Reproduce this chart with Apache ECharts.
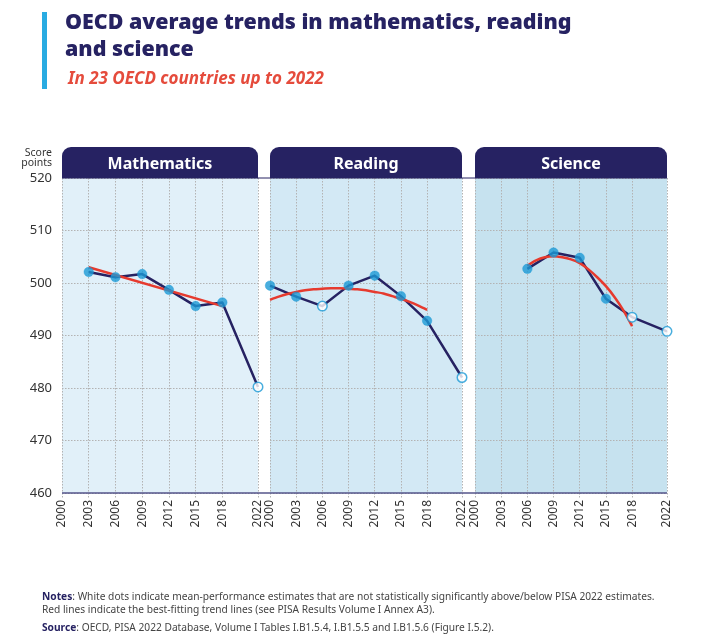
<!DOCTYPE html>
<html><head><meta charset="utf-8">
<script src="https://cdn.jsdelivr.net/npm/echarts@6/dist/echarts.min.js"></script>
<style>html,body{margin:0;padding:0;background:#fff}#c{width:713px;height:643px}</style>
</head><body><div id="c"></div>
<script>
// ---- data ----
const axisYears = ['2000','2001','2002','2003','2004','2005','2006','2007','2008','2009','2010','2011','2012','2013','2014','2015','2016','2017','2018','2019','2020','2021','2022'];
const tickYears = ['2000','2003','2006','2009','2012','2015','2018','2022'];
const panelNames = ['Mathematics','Reading','Science'];

const mathYears = ['2003','2006','2009','2012','2015','2018','2022'];
const mathScores = [502.1, 501.1, 501.7, 498.7, 495.6, 496.3, 480.2];
const mathOpen = [false, false, false, false, false, false, true];
const mathTrendYears = ['2003','2018'];
const mathTrend = [503.0, 495.6];

const readingYears = ['2000','2003','2006','2009','2012','2015','2018','2022'];
const readingScores = [499.5, 497.4, 495.6, 499.5, 501.4, 497.5, 492.8, 482.0];
const readingOpen = [false, false, true, false, false, false, false, true];
const readingTrendYears = ['2000','2001','2002','2003','2004','2005','2006','2007','2008','2009','2010','2011','2012','2013','2014','2015','2016','2017','2018'];
const readingTrend = [496.8, 497.4, 497.9, 498.3, 498.6, 498.8, 498.9, 499.0, 499.0, 498.9, 498.8, 498.6, 498.3, 498.0, 497.5, 497.0, 496.4, 495.7, 494.9];

const scienceYears = ['2006','2009','2012','2015','2018','2022'];
const scienceScores = [502.7, 505.8, 504.8, 497.0, 493.5, 490.8];
const scienceOpen = [false, false, false, false, true, true];
const scienceTrendYears = ['2006','2007','2008','2009','2010','2011','2012','2013','2014','2015','2016','2017','2018'];
const scienceTrend = [503.3, 504.3, 504.9, 505.1, 504.9, 504.5, 503.8, 502.6, 501.1, 499.4, 497.3, 494.8, 491.8];

// ---- layout / style ----
const NAVY = '#262262';
const BLUE = '#1b9ad6';
const RED = '#e63a2e';
const FONT = 'Noto Sans';
const TOP = 178, BOTTOM_Y = 493;
const grids = [
  {left: 62, width: 196, bg: '#e1f0f9'},
  {left: 270, width: 192, bg: '#d3e9f5'},
  {left: 475, width: 192, bg: '#c6e2ef'}
];
const panels = [
  {years: mathYears, scores: mathScores, open: mathOpen, ty: mathTrendYears, tv: mathTrend, smooth: false},
  {years: readingYears, scores: readingScores, open: readingOpen, ty: readingTrendYears, tv: readingTrend, smooth: true},
  {years: scienceYears, scores: scienceScores, open: scienceOpen, ty: scienceTrendYears, tv: scienceTrend, smooth: true}
];
const isTick = (i, v) => tickYears.indexOf(String(v)) >= 0;
const GRIDLINE = {color: '#b3b3b3', type: [1.5, 1.5], width: 1};

const option = {
  animation: false,
  backgroundColor: '#fff',
  title: [
    {text: 'OECD average trends in mathematics, reading\nand science', left: 65, top: 9, padding: 0,
     textStyle: {fontFamily: FONT, fontWeight: 900, fontSize: 21.4, color: NAVY, lineHeight: 27}},
    {text: 'In 23 OECD countries up to 2022', left: 68, top: 71, padding: 0,
     textStyle: {fontFamily: FONT, fontWeight: 'bold', fontStyle: 'italic', fontSize: 17, color: '#e54b3c'}},
    {text: '{b|Notes}: White dots indicate mean-performance estimates that are not statistically significantly above/below PISA 2022 estimates.\nRed lines indicate the best-fitting trend lines (see PISA Results Volume I Annex A3).',
     left: 42, top: 591, padding: 0,
     textStyle: {fontFamily: FONT, fontWeight: 'normal', fontSize: 10.2, color: '#444', lineHeight: 13,
       rich: {b: {fontFamily: FONT, fontWeight: 'bold', fontSize: 10.2, color: NAVY}}}},
    {text: '{b|Source}: OECD, PISA 2022 Database, Volume I Tables I.B1.5.4, I.B1.5.5 and I.B1.5.6 (Figure I.5.2).',
     left: 42, top: 623, padding: 0,
     textStyle: {fontFamily: FONT, fontWeight: 'normal', fontSize: 10.2, color: '#444',
       rich: {b: {fontFamily: FONT, fontWeight: 'bold', fontSize: 10.2, color: NAVY}}}}
  ],
  grid: grids.map(g => ({left: g.left, width: g.width, top: TOP, height: BOTTOM_Y - TOP,
    show: true, backgroundColor: g.bg, borderWidth: 0, containLabel: false})),
  xAxis: grids.map((g, k) => ({
    type: 'category', gridIndex: k, data: axisYears, boundaryGap: false,
    axisLine: {show: false},
    axisTick: {show: true, interval: isTick, length: 6, lineStyle: GRIDLINE},
    axisLabel: {interval: isTick, rotate: 90, margin: 7, fontFamily: FONT, fontSize: 12, color: '#333'},
    splitLine: {show: true, interval: isTick, lineStyle: GRIDLINE}
  })),
  yAxis: grids.map((g, k) => ({
    type: 'value', gridIndex: k, min: 460, max: 520, interval: 10,
    axisLine: {show: false}, axisTick: {show: false},
    axisLabel: {show: k === 0, margin: 10, fontFamily: FONT, fontSize: 13, color: '#333'},
    splitLine: {show: true, lineStyle: GRIDLINE}
  })),
  series: [],
  graphic: []
};

panels.forEach((p, k) => {
  option.series.push({
    type: 'line', xAxisIndex: k, yAxisIndex: k, z: 2,
    data: p.years.map((y, i) => [y, p.scores[i]]),
    symbol: 'none', lineStyle: {color: NAVY, width: 2.5}
  });
  option.series.push({
    type: 'line', xAxisIndex: k, yAxisIndex: k, z: 3,
    data: p.ty.map((y, i) => [y, p.tv[i]]),
    symbol: 'none', smooth: p.smooth ? 0.3 : false, lineStyle: {color: RED, width: 2.5}
  });
  option.series.push({
    type: 'scatter', xAxisIndex: k, yAxisIndex: k, z: 4, symbolSize: 9.5,
    data: p.years.map((y, i) => ({
      value: [y, p.scores[i]],
      itemStyle: p.open[i] ? {color: '#fff', borderColor: BLUE, borderWidth: 1.5}
                           : {color: BLUE, borderColor: BLUE, borderWidth: 0.5}
    }))
  });
});

// header tabs
grids.forEach((g, k) => {
  option.graphic.push({type: 'rect', z: 10, shape: {x: g.left, y: 147, width: g.width, height: TOP - 147, r: [9, 9, 0, 0]},
    style: {fill: NAVY}});
  option.graphic.push({type: 'text', z: 11, x: g.left + g.width / 2, y: 164,
    style: {text: panelNames[k], fill: '#fff', font: 'bold 16px "Noto Sans"', align: 'center', verticalAlign: 'middle'}});
});
// y-axis unit label
option.graphic.push({type: 'text', z: 11, x: 52, y: 148,
  style: {text: 'Score\npoints', fill: '#333', font: '10.5px "Noto Sans"', align: 'right', verticalAlign: 'top', lineHeight: 10}});
// top rule and baseline
option.graphic.push({type: 'line', z: 9, shape: {x1: 62, y1: TOP, x2: 667, y2: TOP}, style: {stroke: NAVY, lineWidth: 1}});
option.graphic.push({type: 'line', z: 9, shape: {x1: 62, y1: BOTTOM_Y, x2: 667, y2: BOTTOM_Y}, style: {stroke: '#55548a', lineWidth: 1.5}});
// left accent bar
option.graphic.push({type: 'rect', z: 9, shape: {x: 42, y: 12, width: 5, height: 77}, style: {fill: '#29abe2'}});

const chart = echarts.init(document.getElementById('c'), null, {renderer: 'canvas'});
chart.setOption(option);
</script>
</body></html>
